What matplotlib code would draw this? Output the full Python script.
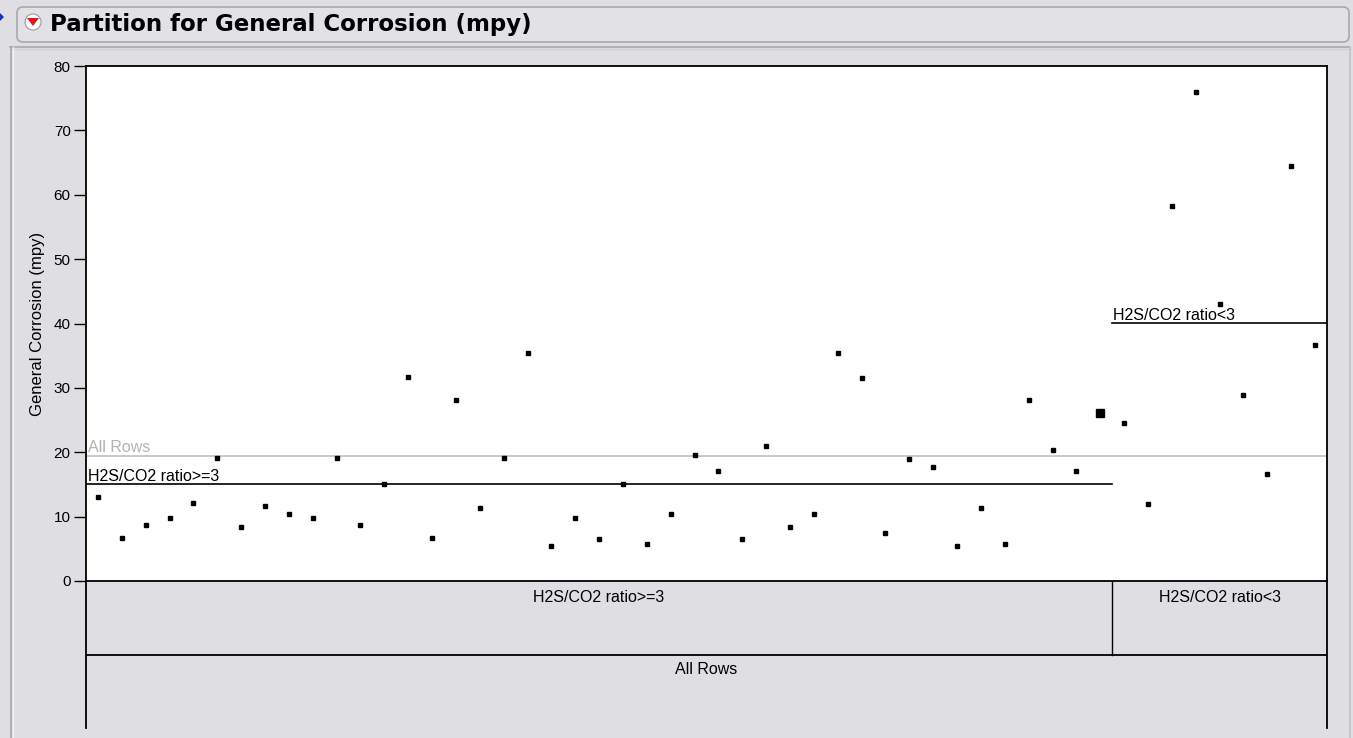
import numpy as np
import matplotlib.pyplot as plt
from matplotlib.patches import FancyBboxPatch, Circle, Polygon

plt.rcParams['font.family'] = ['Liberation Sans', 'DejaVu Sans']

# General corrosion (mpy) per row, in row order
corrosion = [13.0, 6.7, 8.7, 9.8, 12.1, 19.1, 8.4, 11.6, 10.4, 9.8,
             19.1, 8.7, 15.1, 31.7, 6.7, 28.1, 11.3, 19.1, 35.4, 5.5,
             9.8, 6.6, 15.1, 5.8, 10.4, 19.5, 17.1, 6.6, 20.9, 8.4,
             10.4, 35.4, 31.6, 7.5, 19.0, 17.7, 5.5, 11.3, 5.8, 28.1,
             20.3, 17.1, 26.1,
             24.6, 12.0, 58.2, 76.0, 43.0, 28.9, 16.6, 64.5, 36.6]
n_high_ratio = 43          # rows with H2S/CO2 ratio>=3 come first
group_names = ['H2S/CO2 ratio>=3', 'H2S/CO2 ratio<3']
root_name = 'All Rows'
big_rows = [42]            # drawn with the larger marker
yticks = [0, 10, 20, 30, 40, 50, 60, 70, 80]

bg = '#dfdee3'
W, H = 1353, 738
fs = 11.5
fig = plt.figure(figsize=(W / 100, H / 100), dpi=100, facecolor=bg)

# frame / title tab drawn in pixel coords
deco = fig.add_axes([0, 0, 1, 1])
deco.set_xlim(0, W)
deco.set_ylim(H, 0)
deco.axis('off')
deco.add_patch(FancyBboxPatch((17, 7), 1332, 35, boxstyle='round,pad=0,rounding_size=6',
                              fc='#e2e1e6', ec='#a9a9ad', lw=1.2))
deco.plot([10, 1350], [47, 47], color='#a9a9ad', lw=1.2)
deco.plot([10, 1350], [49, 49], color='#cfcfd3', lw=1)
deco.plot([11, 11], [47, H], color='#a9a9ad', lw=1.2)
deco.plot([13, 13], [47, H], color='#f4f4f6', lw=1)
deco.plot([1350, 1350], [47, H], color='#c3c3c7', lw=1.2)
deco.add_patch(Circle((33, 22), 8, fc='white', ec='#9a9a9e', lw=0.8))
deco.add_patch(Polygon([[27, 18], [39, 18], [33, 26]], closed=True, fc='#e8141c', ec='none'))
deco.add_patch(Polygon([[0, 13], [4, 17], [0, 21]], closed=True, fc='#1030d0', ec='none'))
deco.text(50, 25, 'Partition for General Corrosion (mpy)', fontsize=16.5,
          fontweight='bold', va='center', ha='left', color='black', family='DejaVu Sans')

rows = np.arange(len(corrosion))
y = np.array(corrosion)

ax = fig.add_axes([86 / W, (H - 581) / H, 1241 / W, 515 / H])
ax.set_facecolor('white')
ax.set_xlim(-0.5, len(corrosion) - 0.5)
ax.set_ylim(0, 80)
small = [i for i in rows if i not in big_rows]
ax.plot(rows[small], y[small], 's', color='black', ms=3.3, mec='black', zorder=3)
ax.plot(rows[big_rows], y[big_rows], 's', color='black', ms=5.8, zorder=3)

# partition means
all_mean = y.mean()
m1 = y[:n_high_ratio].mean()
m2 = y[n_high_ratio:].mean()
split = n_high_ratio - 0.5
x0, x1 = -0.5, len(corrosion) - 0.5
ax.plot([x0, x1], [all_mean, all_mean], color='#c4c4c4', lw=1.3, zorder=2)
ax.plot([x0, split], [m1, m1], color='black', lw=1.2, zorder=2)
ax.plot([split, x1], [m2, m2], color='black', lw=1.2, zorder=2)
ax.text(x0 + 0.08, all_mean + 0.2, root_name, color='#b4b4b4', fontsize=fs, va='bottom', ha='left')
ax.text(x0 + 0.08, m1 + 0.1, group_names[0], color='black', fontsize=fs, va='bottom', ha='left')
ax.text(split + 0.05, m2 + 0.1, group_names[1], color='black', fontsize=fs, va='bottom', ha='left')

ax.set_xticks([])
ax.set_yticks(yticks)
ax.tick_params(axis='y', length=8.5, width=1, pad=2.5, labelsize=11)
ax.set_ylabel('General Corrosion (mpy)', fontsize=12, labelpad=6)
for s in ax.spines.values():
    s.set_linewidth(1.3)

# partition boxes under the plot
bx = fig.add_axes([86 / W, (H - 728) / H, 1241 / W, 147 / H], sharex=ax)
bx.set_facecolor(bg)
bx.set_ylim(0, 2)
bx.axis('off')
bx.plot([x0, x0], [0, 2], color='black', lw=1.3, clip_on=False)
bx.plot([x1, x1], [0, 2], color='black', lw=1.3, clip_on=False)
bx.plot([x0, x1], [1, 1], color='black', lw=1.3)
bx.plot([split, split], [1, 2], color='black', lw=1)
bx.text((x0 + split) / 2, 1.78, group_names[0], ha='center', va='center', fontsize=fs)
bx.text((split + x1) / 2, 1.78, group_names[1], ha='center', va='center', fontsize=fs)
bx.text((x0 + x1) / 2, 0.8, root_name, ha='center', va='center', fontsize=fs)

fig.savefig('out.png', dpi=100, facecolor=bg)
